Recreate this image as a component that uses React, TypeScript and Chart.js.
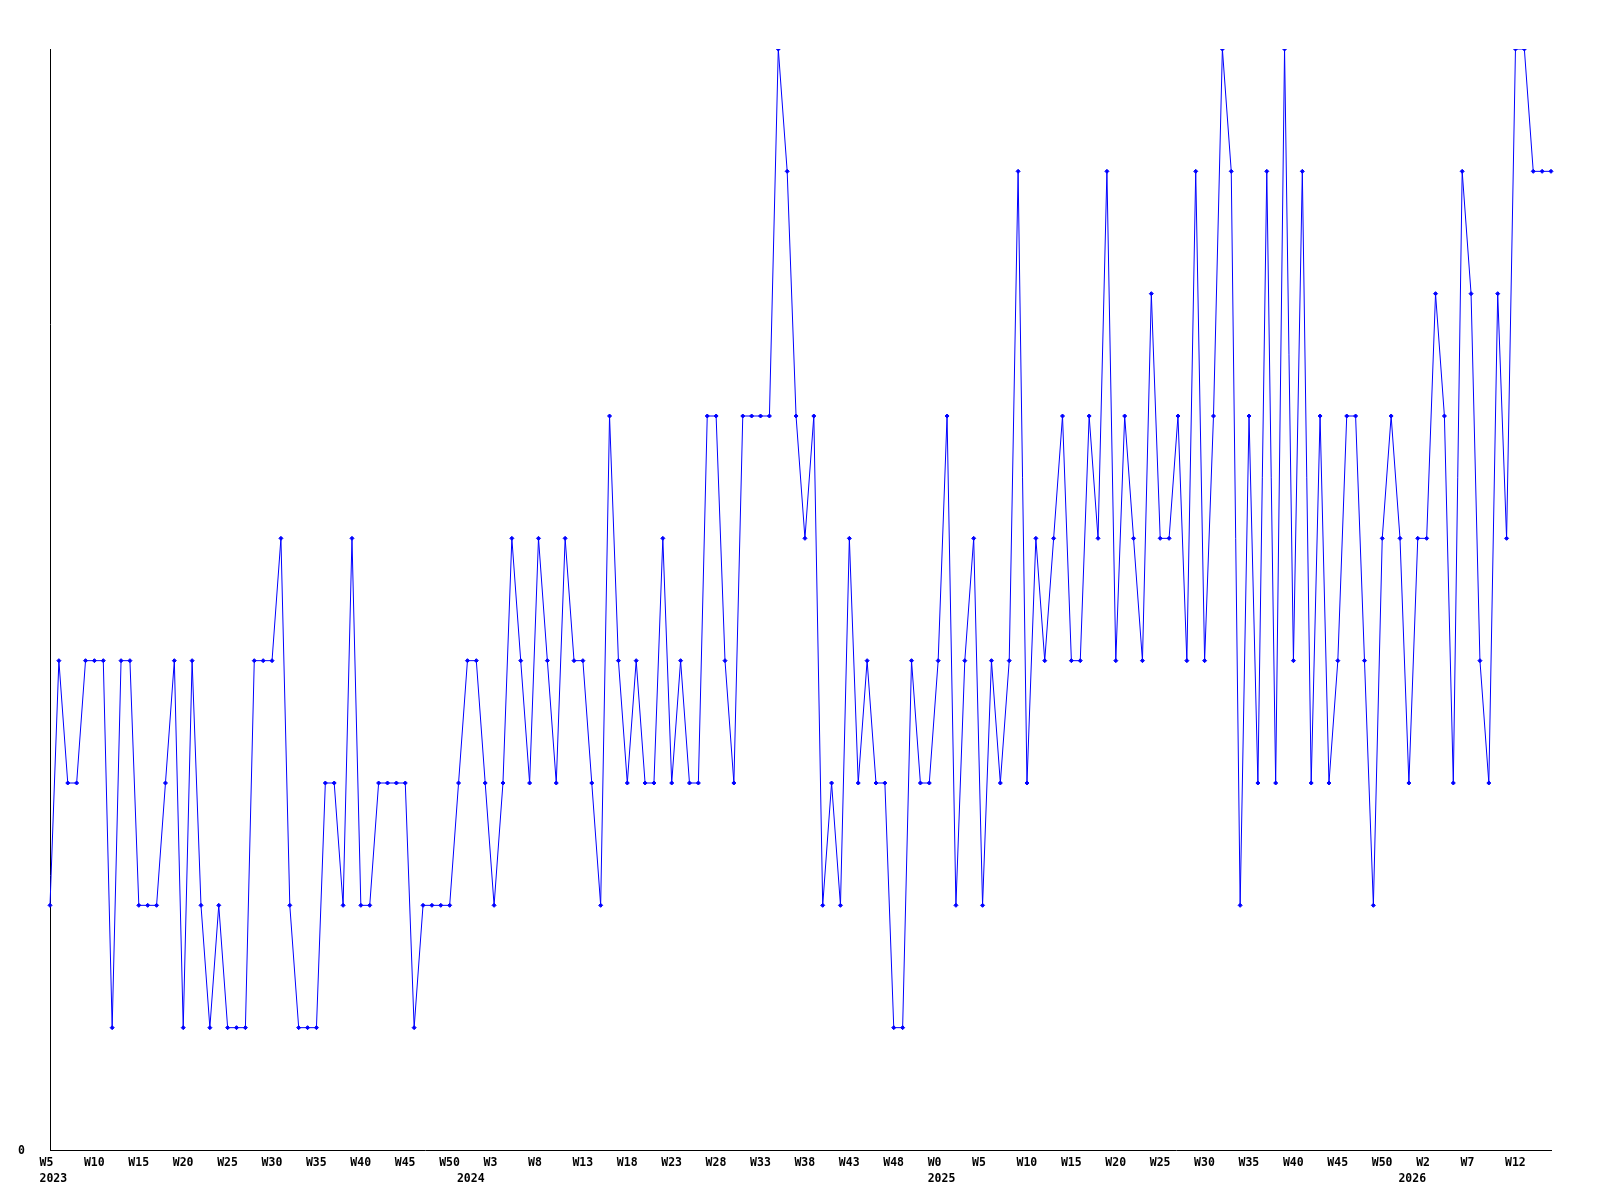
import React, { useEffect, useRef } from "react";
import { Chart, registerables } from "chart.js";

Chart.register(...registerables);

// Week-of-year segments (Monday-based, %W style) covered by the series
const yearSegments = [
  { year: 2023, first: 5, last: 52 },
  { year: 2024, first: 1, last: 52 },
  { year: 2025, first: 0, last: 52 },
  { year: 2026, first: 0, last: 16 },
];

// Weekly values
const values2023 = [
  2, 4, 3, 3, 4, 4, 4, 1, 4, 4, 2, 2, 2, 3, 4, 1, 4, 2, 1, 2, 1, 1, 1, 4, 4,
  4, 5, 2, 1, 1, 1, 3, 3, 2, 5, 2, 2, 3, 3, 3, 3, 1, 2, 2, 2, 2, 3, 4,
];
const values2024 = [
  4, 3, 2, 3, 5, 4, 3, 5, 4, 3, 5, 4, 4, 3, 2, 6, 4, 3, 4, 3, 3, 5, 3, 4, 3,
  3, 6, 6, 4, 3, 6, 6, 6, 6, 9, 8, 6, 5, 6, 2, 3, 2, 5, 3, 4, 3, 3, 1, 1, 4,
  3, 3,
];
const values2025 = [
  4, 6, 2, 4, 5, 2, 4, 3, 4, 8, 3, 5, 4, 5, 6, 4, 4, 6, 5, 8, 4, 6, 5, 4, 7,
  5, 5, 6, 4, 8, 4, 6, 9, 8, 2, 6, 3, 8, 3, 9, 4, 8, 3, 6, 3, 4, 6, 6, 4, 2,
  5, 6, 5,
];
const values2026 = [3, 5, 5, 7, 6, 3, 8, 7, 4, 3, 7, 5, 9, 9, 8, 8, 8];

// Year labels under the axis and the point index they sit at
const yearLabels = ["2023", "2024", "2025", "2026"];
const yearLabelAt = [0, 47, 100, 153];

const yTickLabels = ["0"];
const labelEvery = 5;

const weekLabels: string[] = [];
yearSegments.forEach((s) => {
  for (let w = s.first; w <= s.last; w++) weekLabels.push("W" + w);
});
const seriesValues = [...values2023, ...values2024, ...values2025, ...values2026];

const FONT = 'bold 11.5px "DejaVu Sans Mono", "Liberation Mono", monospace';

const labelPlugin = {
  id: "customLabels",
  afterDraw(chart: any) {
    const { ctx, chartArea } = chart;
    const xs = chart.scales.x;
    const ys = chart.scales.y;
    ctx.save();
    ctx.font = FONT;
    ctx.fillStyle = "#000";
    ctx.textBaseline = "alphabetic";
    ctx.textAlign = "left";
    for (let i = 0; i < weekLabels.length; i += labelEvery) {
      const x = xs.getPixelForValue(i) - 10.5;
      ctx.fillText(weekLabels[i], x, chartArea.bottom + 16);
    }
    yearLabels.forEach((y, k) => {
      const x = xs.getPixelForValue(yearLabelAt[k]) - 10.5;
      ctx.fillText(y, x, chartArea.bottom + 32);
    });
    ctx.textAlign = "right";
    ctx.fillText(yTickLabels[0], chartArea.left - 25, ys.getPixelForValue(0) + 3.5);
    ctx.restore();
  },
};

export default function App() {
  const ref = useRef<HTMLCanvasElement | null>(null);
  useEffect(() => {
    if (!ref.current) return;
    const chart = new Chart(ref.current, {
      type: "line",
      data: {
        labels: weekLabels,
        datasets: [
          {
            data: seriesValues,
            borderColor: "#0000ff",
            backgroundColor: "#0000ff",
            borderWidth: 1,
            pointStyle: "rectRot",
            pointRadius: 2,
            pointBorderWidth: 1,
            pointBackgroundColor: "#0000ff",
            pointBorderColor: "#0000ff",
            tension: 0,
            fill: false,
          },
        ],
      },
      options: {
        responsive: false,
        animation: false,
        devicePixelRatio: 1,
        layout: { padding: { left: 50, top: 49, right: 49, bottom: 50 } },
        plugins: { legend: { display: false }, tooltip: { enabled: false }, title: { display: false } },
        scales: {
          x: {
            type: "category",
            offset: false,
            grid: { display: false, drawTicks: false },
            border: { display: true, color: "#000", width: 1 },
            ticks: { display: false },
          },
          y: {
            min: 0,
            max: 9,
            grid: { display: false, drawTicks: false },
            border: { display: true, color: "#000", width: 1 },
            ticks: { display: false },
          },
        },
      },
      plugins: [labelPlugin],
    });
    return () => chart.destroy();
  }, []);
  return (
    <div style={{ position: "absolute", left: 0, top: 0, width: 1600, height: 1200, background: "#fff" }}>
      <canvas ref={ref} width={1600} height={1200} style={{ width: 1600, height: 1200, display: "block" }} />
    </div>
  );
}
